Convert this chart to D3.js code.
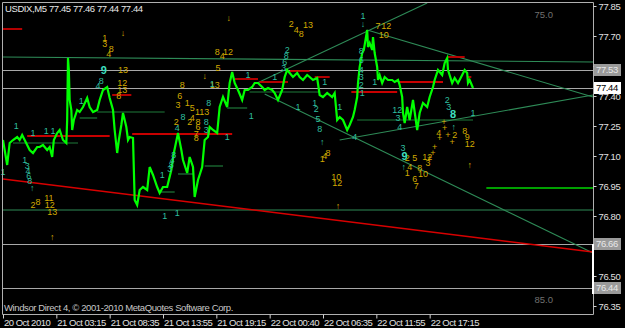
<!DOCTYPE html>
<html>
<head>
<meta charset="utf-8">
<script src="https://cdn.jsdelivr.net/npm/d3@7"></script>
<style>
  html, body { margin: 0; padding: 0; background: #000; }
  svg { display: block; font-family: "Liberation Sans", Arial, sans-serif; }
</style>
</head>
<body>
<svg id="chart" width="625" height="328"></svg>
<script>
// price path: bar index + close
var pathBars = [0,2,5,8,12,17,20,23,26,29,32,36,41,44,48,53,56,59,61,65,68,72,76,77,78,79,80,82,83,85,89,92,96,101,104,108,113,116,120,125,128,132,134,137,139,142,144,148,150,152,156,158,161,164,168,173,176,180,185,188,192,197,202,205,210,214,216,221,224,228,230,234,239,242,246,248,252,257,260,264,269,272,275,278,282,287,290,294,299,302,306,311,314,318,323,326,330,335,338,341,344,348,353,356,360,365,368,372,377,380,384,389,395,398,401,404,408,413,416,420,422,425,426,428,431,433,437,438,440,443,444,446,449,450,452,455,458,462,467,470,474,476,479,480,482,485,488,492,497,500,504,509,512,516,518,522,527,530,533,534,539,542,546,551,554,557,558,560,564]
var pathPrices = [77.18,77.13,77.055,77.165,77.18,77.195,77.18,77.205,77.18,77.155,77.13,77.115,77.145,77.145,77.155,77.13,77.145,77.095,77.18,77.215,77.23,77.18,77.165,77.28,77.59,77.53,77.38,77.33,77.23,77.28,77.33,77.32,77.345,77.39,77.345,77.32,77.33,77.38,77.43,77.445,77.39,77.33,77.23,77.115,77.18,77.255,77.315,77.245,77.18,77.195,77.19,76.88,76.855,76.93,76.945,76.93,77.045,77.005,76.945,76.915,76.945,76.945,77.03,77.115,77.215,77.13,77.08,77.015,77.095,77.045,76.895,76.98,77.045,77.18,77.195,77.245,77.23,77.215,77.345,77.395,77.345,77.465,77.52,77.465,77.43,77.38,77.43,77.43,77.445,77.465,77.465,77.445,77.43,77.44,77.43,77.415,77.38,77.43,77.495,77.53,77.515,77.495,77.515,77.495,77.48,77.505,77.495,77.48,77.49,77.405,77.395,77.415,77.395,77.415,77.28,77.295,77.28,77.23,77.255,77.295,77.33,77.395,77.465,77.545,77.615,77.63,77.73,77.645,77.665,77.63,77.695,77.615,77.545,77.48,77.505,77.465,77.495,77.48,77.48,77.47,77.48,77.455,77.395,77.315,77.265,77.345,77.28,77.38,77.23,77.315,77.365,77.345,77.395,77.445,77.48,77.53,77.505,77.565,77.59,77.53,77.465,77.49,77.465,77.505,77.53,77.515,77.465,77.48,77.44]

// axis
var priceTicks = [77.85,77.70,77.55,77.40,77.25,77.10,76.95,76.80,76.50,76.35]
var timeBars = [0,64,128,192,256,320,384,448,512]
var timeLabels = ["20 Oct 2010","21 Oct 03:15","21 Oct 08:35","21 Oct 13:55","21 Oct 19:15","22 Oct 00:40","22 Oct 06:35","22 Oct 11:55","22 Oct 17:15"]

// horizontal price levels (gray) and their boxes
var levelPrices = [77.53,77.44,76.66,76.44]

// trend lines: [bar1, price1, bar2, price2]
var greenLines = [
  [0,77.595,708,77.57],
  [0,76.83,708,76.83],
  [305,77.465,509,77.865],
  [437,77.73,708,77.395],
  [404,77.18,708,77.405],
  [314,77.41,708,76.615]
]
var redTrend = [0,76.985,708,76.62]
var brightSegment = [580,76.94,708,76.94]

// short segments: [bar1, bar2, price]
var redSegments = [[0,23,77.735],[131,154,77.405],[29,128,77.20],[155,275,77.21],[278,306,77.485],[308,342,77.47],[344,368,77.525],[374,392,77.495],[418,473,77.42],[474,528,77.47],[533,554,77.595],[558,562,77.495]]
var greenSegments = [[12,90,77.165],[92,113,77.29],[113,194,77.32],[188,206,76.92],[210,228,77.01],[242,264,77.05],[269,293,77.34],[296,380,77.42],[425,564,77.28]]

// wave count labels: [bar, price, text]
var yellowLabels = [[122,77.69,"1"],[122,77.66,"3"],[130,77.635,"8"],[127,77.61,"4"],[144,77.715,"↓"],[144,77.53,"13"],[143,77.465,"12"],[143,77.43,"13"],[139,77.40,"8"],
  [242,77.50,"↓"],[215,77.455,"8"],[212,77.40,"6"],[210,77.355,"3"],[221,77.365,"1"],[227,77.34,"5"],[239,77.32,"113"],[208,77.27,"2"],[227,77.29,"4"],[224,77.27,"2"],[234,77.27,"8"],[234,77.245,"6"],[232,77.21,"7"],[232,77.19,"8"],
  [254,77.455,"13"],[258,77.54,"5"],[257,77.62,"8"],[270,77.62,"12"],[263,77.60,"4"],[271,77.79,"↓"],[346,77.76,"2"],[352,77.73,"4"],[366,77.755,"13"],[358,77.71,"8"],[450,77.75,"7"],[460,77.75,"12"],[457,77.705,"10"],
  [36,76.855,"2"],[42,76.87,"8"],[55,76.89,"11"],[56,76.855,"12"],[59,76.82,"13"],[59,76.695,"↑"],[390,77.115,"8"],[386,77.10,"4"],[383,77.085,"1"],[400,76.995,"10"],[401,76.965,"12"],[402,76.85,"↑"],
  [485,77.09,"2"],[494,77.09,"5"],[488,77.045,"4"],[500,77.04,"8"],[504,77.01,"10"],[485,77.015,"1"],[494,76.985,"6"],[496,76.95,"7"],[509,77.095,"12"],[510,77.065,"3"],
  [523,77.215,"4"],[542,77.205,"2"],[554,77.225,"8"],[557,77.195,"9"],[560,77.16,"12"],[560,77.055,"↑"],
  [530,77.24,"+"],[524,77.19,"+"],[534,77.205,"+"],[539,77.17,"+"],[518,77.145,"+"],[516,77.115,"+"],[512,77.09,"+"],[529,77.27,"+"]]
var tealLabels = [[118,77.475,"8"],[114,77.45,"4"],[94,77.375,"1"],[16,77.25,"1"],[36,77.215,"1"],[52,77.225,"1"],[60,77.225,"1"],[0,77.02,"1"],
  [26,77.08,"1"],[29,77.05,"3"],[30,77.025,"4"],[31,77.00,"6"],[32,76.975,"8"],[35,76.94,"↑"],[194,76.80,"1"],[209,76.815,"1"],
  [205,77.105,"8"],[203,77.08,"4"],[202,77.055,"8"],[200,77.035,"3"],[191,77.005,"1"],[216,77.295,"8"],[209,77.24,"4"],[247,77.365,"8"],[244,77.27,"8"],[244,77.23,"3"],[269,77.195,"1"],
  [251,77.46,"1"],[294,77.505,"1"],[298,77.30,"1"],[341,77.63,"2"],[340,77.60,"8"],[338,77.57,"6"],[337,77.54,"3"],[326,77.495,"1"],[354,77.345,"1"],
  [374,77.365,"1"],[376,77.335,"2"],[378,77.285,"5"],[380,77.235,"8"],[383,77.17,"↑"],[386,77.47,"1"],[404,77.345,"1"],[422,77.195,"4"],
  [432,77.80,"1"],[432,77.76,"↓"],[430,77.625,"8"],[430,77.58,"6"],[430,77.53,"4"],[430,77.495,"3"],[430,77.455,"2"],[431,77.415,"1"],[446,77.47,"1"],
  [473,77.33,"12"],[474,77.29,"3"],[476,77.245,"4"],[480,77.14,"3"],[481,77.045,"↑"],[533,77.38,"2"],[535,77.345,"3"],[541,77.245,"↑"],[564,77.315,"1"]]
var boldTealLabels = [[121,77.53,"9"],[482,77.10,"9"],[540,77.31,"8"]]

var width = 625
var height = 328
var plot = {left: 2, right: 593, top: 2, bottom: 314}

var x = d3.scaleLinear().domain([0, 708]).range([3, 593])
var y = d3.scaleLinear().domain([76.35, 77.85]).range([306, 6])

var svg = d3.select("#chart").attr("viewBox", [0, 0, width, height])

svg.append("rect").attr("width", width).attr("height", height).attr("fill", "#000")

// level lines
svg.append("g")
  .selectAll("line")
  .data(levelPrices)
  .join("line")
    .attr("x1", plot.left).attr("x2", plot.right)
    .attr("y1", d => Math.round(y(d)) + 0.5).attr("y2", d => Math.round(y(d)) + 0.5)
    .attr("stroke", "#a8a8a8")

var seg = (g, arr) => g.selectAll("line").data(arr).join("line")
    .attr("x1", d => x(d[0])).attr("x2", d => x(d[1]))
    .attr("y1", d => y(d[2])).attr("y2", d => y(d[2]))

svg.append("g").call(seg, greenSegments).attr("stroke", "#1f7a3a").attr("stroke-width", 1.2)

svg.append("g")
  .selectAll("line")
  .data(greenLines)
  .join("line")
    .attr("x1", d => x(d[0])).attr("y1", d => y(d[1]))
    .attr("x2", d => x(d[2])).attr("y2", d => y(d[3]))
    .attr("stroke", "#2e8b57").attr("stroke-width", 1.1)

svg.append("line")
  .attr("x1", x(redTrend[0])).attr("y1", y(redTrend[1]))
  .attr("x2", x(redTrend[2])).attr("y2", y(redTrend[3]))
  .attr("stroke", "#d80000").attr("stroke-width", 1.4)

svg.append("line")
  .attr("x1", x(brightSegment[0])).attr("y1", y(brightSegment[1]))
  .attr("x2", x(brightSegment[2])).attr("y2", y(brightSegment[3]))
  .attr("stroke", "#00a000").attr("stroke-width", 2)

svg.append("g").call(seg, redSegments).attr("stroke", "#c80000").attr("stroke-width", 1.8)

// price
var line = d3.line().x(d => x(d[0])).y(d => y(d[1]))
svg.append("path")
  .datum(d3.zip(pathBars, pathPrices))
  .attr("fill", "none")
  .attr("stroke", "#00ff00")
  .attr("stroke-width", 2.2)
  .attr("stroke-linejoin", "miter")
  .attr("d", line)

// labels
var labels = (g, arr, color) => g.selectAll("text").data(arr).join("text")
    .attr("x", d => x(d[0])).attr("y", d => y(d[1]))
    .attr("text-anchor", "middle").attr("dy", "0.35em")
    .attr("fill", color)
    .text(d => d[2])

svg.append("g").attr("font-size", 9).call(labels, yellowLabels, "#d2aa00")
svg.append("g").attr("font-size", 9).call(labels, tealLabels, "#2fbf9f")
svg.append("g").attr("font-size", 11).attr("font-weight", "bold").call(labels, boldTealLabels, "#3fe0c0")

// frame
svg.append("path")
  .attr("d", `M${plot.left + 0.5},${plot.bottom + 0.5}V${plot.top + 0.5}H${plot.right + 0.5}V${plot.bottom + 0.5}Z`)
  .attr("fill", "none")
  .attr("stroke", "#b0b0b0")

// price axis
var yAxis = g => g
  .attr("transform", `translate(${plot.right + 0.5},0)`)
  .call(d3.axisRight(y).tickValues(priceTicks).tickSize(3).tickPadding(2).tickFormat(d3.format(".2f")))
  .call(g => g.select(".domain").remove())
  .call(g => g.selectAll("line").attr("stroke", "#d0d0d0"))
  .call(g => g.selectAll("text").attr("fill", "#e0e0e0").attr("font-size", 9.5).attr("letter-spacing", "-0.4px").attr("font-family", "Liberation Sans"))

svg.append("g").call(yAxis)

// price boxes on the axis
var boxes = svg.append("g")
boxes.selectAll("rect")
  .data(levelPrices)
  .join("rect")
    .attr("x", plot.right + 1).attr("y", d => y(d) - 6)
    .attr("width", 27).attr("height", 12)
    .attr("fill", (d, i) => i == 1 ? "#ffffff" : "#9a9a9a")
boxes.selectAll("text")
  .data(levelPrices)
  .join("text")
    .attr("x", plot.right + 3).attr("y", d => y(d)).attr("dy", "0.35em")
    .attr("font-size", 9.5).attr("letter-spacing", "-0.4px")
    .attr("fill", (d, i) => i == 1 ? "#000" : "#e8e8e8")
    .text(d => d3.format(".2f")(d))

svg.append("rect")
  .attr("x", plot.right - 1).attr("y", y(levelPrices[2]))
  .attr("width", 2).attr("height", y(levelPrices[3]) + 6 - y(levelPrices[2]))
  .attr("fill", "#fff")

// time axis
var xAxis = g => g
  .attr("transform", `translate(0,${plot.bottom + 0.5})`)
  .call(d3.axisBottom(x).tickValues(timeBars).tickSize(4).tickFormat((d, i) => timeLabels[i]))
  .call(g => g.select(".domain").remove())
  .call(g => g.selectAll("line").attr("stroke", "#d0d0d0"))
  .call(g => g.selectAll("text").attr("text-anchor", "start").attr("dx", "0.5").attr("dy", "0.45em")
      .attr("fill", "#e0e0e0").attr("font-size", 9.5).attr("letter-spacing", "-0.5px").attr("font-family", "Liberation Sans"))

svg.append("g").call(xAxis)

// texts
svg.append("text")
  .attr("x", 5).attr("y", 12)
  .attr("fill", "#e8e8e8").attr("font-size", 9.5).attr("letter-spacing", "-0.4px")
  .text("USDIX,M5  77.45 77.46 77.44 77.44")

svg.append("text")
  .attr("x", 4).attr("y", 311)
  .attr("fill", "#c8c8c8").attr("font-size", 9.5).attr("letter-spacing", "-0.4px")
  .text("Windsor Direct 4, © 2001-2010 MetaQuotes Software Corp.")

svg.append("text").attr("x", 553).attr("y", 18).attr("text-anchor", "end")
  .attr("fill", "#707070").attr("font-size", 9.5).text("75.0")
svg.append("text").attr("x", 553).attr("y", 303).attr("text-anchor", "end")
  .attr("fill", "#707070").attr("font-size", 9.5).text("85.0")
</script>
</body>
</html>
